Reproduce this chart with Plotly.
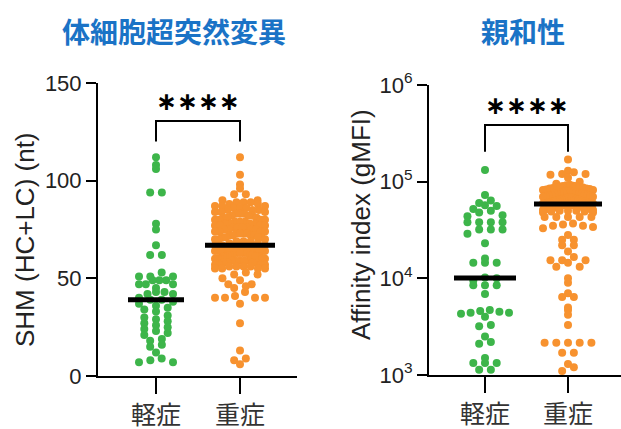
import numpy as np
import plotly.graph_objects as go

# ---------------- data ----------------
categories = ["軽症", "重症"]

mild_shm = [112, 108, 106, 94, 94, 78, 75, 67, 62, 62, 53, 51, 51, 51, 49, 49, 49,
            47, 47, 47, 45, 43, 43, 42, 42, 40, 39, 39, 38, 37, 36, 35, 34, 33, 31,
            30, 29, 28, 27, 26, 25, 24, 23, 22, 21, 19, 18, 16, 15, 12, 9, 8, 7, 7]

severe_shm = [112, 103, 98, 96, 93, 93, 90, 90, 89, 89, 89,
              88, 88, 87, 87, 87, 86, 86, 86, 85, 85, 85, 84, 84, 84, 83, 83, 83,
              82, 82, 82, 81, 81, 81, 80, 80, 80, 80, 79, 79, 79, 78, 78, 78, 78,
              77, 77, 77, 77, 76, 76, 76, 76, 75, 75, 75, 75, 74, 74, 74, 74,
              73, 73, 73, 73, 72, 72, 72, 72, 71, 71, 71, 71, 70, 70, 70,
              69, 69, 69, 68, 68,
              67, 67, 67,
              66, 66, 66, 66, 66, 66, 65, 65, 65, 65, 65, 65, 64, 64, 64, 64, 64, 64,
              63, 63, 63, 63, 63, 63, 62, 62, 62, 62, 62, 61, 61, 61, 61, 61,
              60, 60, 60, 60, 60, 59, 59, 59, 59, 59, 58, 58, 58, 58, 57, 57, 57, 57,
              56, 56, 56, 56, 55, 55, 55, 55,
              53, 52, 52, 50, 49, 47, 47, 46, 45, 43, 41, 40, 40, 40, 40, 37, 27,
              13, 9, 8, 6]

mild_aff = [132000, 73000, 64000, 60000, 57000, 56000, 52000, 50000, 48000, 45000,
            44000, 38000, 38000, 38000, 38000, 32000, 32000, 32000, 29000, 23000,
            16000, 14500, 14500, 14500, 10200, 10000, 9500, 8500, 8500, 8500,
            6900, 4700, 4600, 4500, 4400, 4400, 4300, 4000, 3300, 3200,
            2500, 2200, 2100, 1500, 1330, 1330, 1330, 1130, 1130, 1000]

severe_aff = [170000, 130000, 125000, 120000, 120000, 118000, 110000, 100000, 95000,
              93000, 92000, 91000, 90000, 90000, 89000, 88000, 88000, 87000, 86000,
              85000, 85000, 84000, 83000, 82000, 82000, 81000, 80000, 80000, 79000,
              78000, 78000, 77000, 76000, 76000, 75000, 75000, 74000, 73000, 73000,
              72000, 72000, 71000, 70000, 70000, 69000, 69000, 68000, 68000, 67000,
              67000, 66000, 66000, 65000, 65000, 64000, 64000, 63000, 63000, 62000,
              62000, 62000, 61000, 61000, 61000, 60000, 60000, 60000, 59500, 59500,
              58000, 58000, 57000, 57000, 56000, 56000, 55000, 55000, 55000, 54000,
              54000, 53000, 53000, 52000, 52000, 52000, 51000, 51000, 50000, 50000,
              50000, 49000, 49000, 48000, 48000,
              43000, 43000, 43000, 43000, 43000, 37000, 36000, 35000, 35000, 34000,
              33000, 28000, 25000, 25000, 22000, 22000, 19000, 16600, 15400, 15400,
              15400, 14500, 13200, 13200, 10000, 9000, 7000, 6400, 6400, 5000, 4700,
              4200, 3300, 2150, 2150, 2150, 2150, 2150, 1700, 1700, 1300, 1200, 1100, 1000]

shm_ticks = [0, 50, 100, 150]
aff_ticks = [1e3, 1e4, 1e5, 1e6]
aff_ticktext = ["10<sup>3</sup>", "10<sup>4</sup>", "10<sup>5</sup>", "10<sup>6</sup>"]

GREEN = "#3db54a"
ORANGE = "#f7922f"
BLUE = "#1a73c6"
W, H = 621, 429


def swarm(vals, center, px_per_y, px_per_x, maxhalf, logy=False, binpx=6.5, gap=11.7):
    """GraphPad-like column scatter: bin by pixel height, spread points side by side."""
    v = np.asarray(vals, dtype=float)
    ypx = (np.log10(v) if logy else v) * px_per_y
    bins = np.floor(ypx / binpx).astype(int)
    xs = np.zeros(len(v))
    for b in np.unique(bins):
        idx = np.where(bins == b)[0]
        idx = idx[np.argsort(v[idx])]
        n = len(idx)
        s = gap if n < 2 else min(gap, 2 * maxhalf / (n - 1))
        order = np.arange(n)
        offs = (order - (n - 1) / 2.0) * s
        perm = np.concatenate([order[::2], order[1::2][::-1]])
        xs[idx[perm]] = center + offs / px_per_x
    return xs


# pixel geometry of the two plot areas
L_x0, L_x1, L_cat0, L_cat1 = 98, 297, 156, 240
L_ytop, L_ybot = 83, 376
R_x0, R_x1, R_cat0, R_cat1 = 429, 621, 485, 568
R_ytop, R_ybot = 85, 375

L_ppx = L_cat1 - L_cat0
R_ppx = R_cat1 - R_cat0
L_ppy = (L_ybot - L_ytop) / 150.0
R_ppy = (R_ybot - R_ytop) / 3.0

fig = go.Figure()

groups = [
    (mild_shm, 0, GREEN, "x", "y", L_ppy, L_ppx, 17, False, 28),
    (severe_shm, 1, ORANGE, "x", "y", L_ppy, L_ppx, 25, False, 35),
    (mild_aff, 0, GREEN, "x2", "y2", R_ppy, R_ppx, 24, True, 31),
    (severe_aff, 1, ORANGE, "x2", "y2", R_ppy, R_ppx, 25, True, 34),
]

for vals, c, col, xa, ya, ppy, ppx, mh, lg, mhw in groups:
    xs = swarm(vals, c, ppy, ppx, mh, logy=lg)
    fig.add_trace(go.Scatter(x=xs, y=vals, mode="markers", xaxis=xa, yaxis=ya,
                             marker=dict(size=8, color=col, line=dict(width=0)),
                             cliponaxis=False, showlegend=False, hoverinfo="skip"))

for vals, c, col, xa, ya, ppy, ppx, mh, lg, mhw in groups:
    med = float(np.median(vals))
    fig.add_trace(go.Scatter(x=[c - mhw / ppx, c + mhw / ppx], y=[med, med], mode="lines",
                             xaxis=xa, yaxis=ya, line=dict(color="black", width=5),
                             cliponaxis=False, showlegend=False, hoverinfo="skip"))

# significance brackets
fig.add_trace(go.Scatter(x=[0, 0, 1, 1], y=[120, 130.6, 130.6, 120], mode="lines",
                         xaxis="x", yaxis="y", line=dict(color="black", width=2),
                         cliponaxis=False, showlegend=False, hoverinfo="skip"))
fig.add_trace(go.Scatter(x=[0, 0, 1, 1], y=[10**5.31, 10**5.585, 10**5.585, 10**5.31],
                         mode="lines", xaxis="x2", yaxis="y2",
                         line=dict(color="black", width=2),
                         cliponaxis=False, showlegend=False, hoverinfo="skip"))

star_font = dict(family="DejaVu Sans, Liberation Sans", size=25, color="black")
fig.add_annotation(x=0.5, y=140.5, xref="x", yref="y", text="<b>∗∗∗∗</b>",
                   showarrow=False, font=star_font, yanchor="middle")
fig.add_annotation(x=0.5, y=5.79, xref="x2", yref="y2", text="<b>∗∗∗∗</b>",
                   showarrow=False, font=star_font, yanchor="middle")

title_font = dict(family="Noto Sans CJK JP", size=28, color=BLUE)
fig.add_annotation(x=174 / W, y=1 - 31 / H, xref="paper", yref="paper",
                   text="<b>体細胞超突然変異</b>", showarrow=False, font=title_font,
                   xanchor="center", yanchor="middle")
fig.add_annotation(x=523 / W, y=1 - 31 / H, xref="paper", yref="paper",
                   text="<b>親和性</b>", showarrow=False, font=title_font,
                   xanchor="center", yanchor="middle")

axis_title_font = dict(family="Liberation Sans, Arial", size=26, color="#222222")
fig.add_annotation(x=25 / W, y=1 - 240 / H, xref="paper", yref="paper",
                   text="SHM (HC+LC) (nt)", textangle=-90, showarrow=False,
                   font=axis_title_font, xanchor="center", yanchor="middle")
fig.add_annotation(x=361 / W, y=1 - 225 / H, xref="paper", yref="paper",
                   text="Affinity index (gMFI)", textangle=-90, showarrow=False,
                   font=axis_title_font, xanchor="center", yanchor="middle")

tick_font = dict(family="Liberation Sans, Arial", size=22, color="#222222")
cat_font = dict(family="Noto Sans CJK JP", size=25, color="#333333")

common_x = dict(tickvals=[0, 1], ticktext=categories, showline=True, linecolor="black",
                linewidth=2, ticks="outside", ticklen=16, tickwidth=2, tickcolor="black",
                tickfont=cat_font, showgrid=False, zeroline=False, fixedrange=True,
                automargin=False)
common_y = dict(showline=True, linecolor="black", linewidth=2, ticks="outside",
                ticklen=10, tickwidth=2, tickcolor="black", tickfont=tick_font,
                showgrid=False, zeroline=False, fixedrange=True, automargin=False)

fig.update_layout(
    width=W, height=H,
    margin=dict(l=0, r=0, t=0, b=0, autoexpand=False),
    paper_bgcolor="white", plot_bgcolor="white",
    xaxis=dict(domain=[L_x0 / W, L_x1 / W],
               range=[(L_x0 - L_cat0) / L_ppx, (L_x1 - L_cat0) / L_ppx],
               anchor="y", **common_x),
    yaxis=dict(domain=[1 - L_ybot / H, 1 - L_ytop / H], range=[0, 150],
               tickvals=shm_ticks, anchor="x", **common_y),
    xaxis2=dict(domain=[R_x0 / W, R_x1 / W],
                range=[(R_x0 - R_cat0) / R_ppx, (R_x1 - R_cat0) / R_ppx],
                anchor="y2", **common_x),
    yaxis2=dict(domain=[1 - R_ybot / H, 1 - R_ytop / H], type="log", range=[3, 6],
                tickvals=aff_ticks, ticktext=aff_ticktext, anchor="x2", **common_y),
)

fig.write_html("out.html", config={"displayModeBar": False},
               post_script="document.body.style.margin='0';document.body.style.padding='0';"
                           "document.body.style.overflow='hidden';")
